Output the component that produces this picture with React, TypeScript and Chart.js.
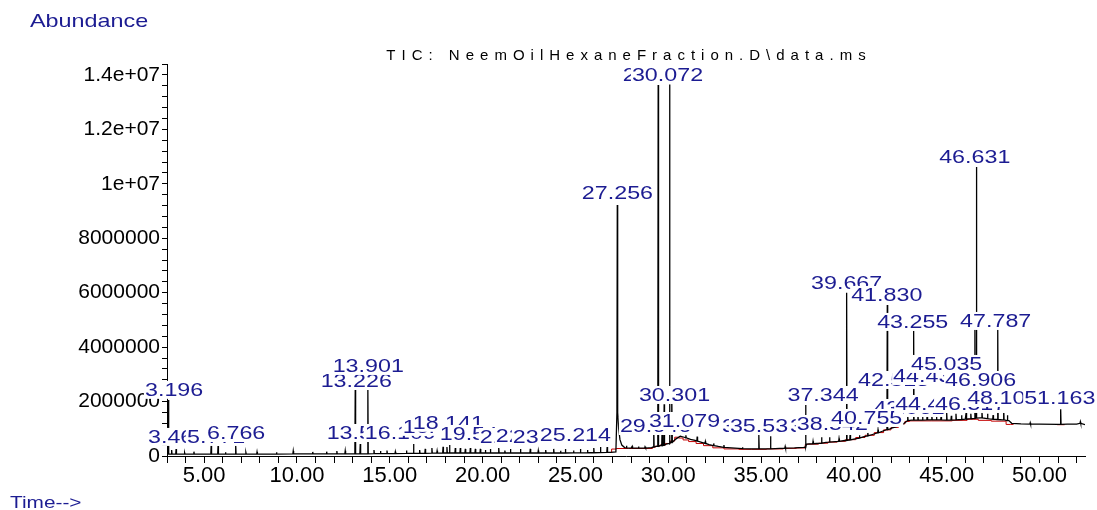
import React, { useEffect, useRef } from "react";
import { Chart, registerables } from "chart.js";

Chart.register(...registerables);

// ---------- data ----------
const chartTitle = "TIC: NeemOilHexaneFraction.D\\data.ms";
const yAxisTitle = "Abundance";
const xAxisTitle = "Time-->";

// slowly varying trace (baseline drift, hump and tail of the 27.256 peak)
const baseRT = [
  3.0, 5.0, 8.0, 11.0, 13.0, 15.0, 18.0, 21.0, 24.0, 26.9, 27.18,
  27.33, 27.4, 27.5, 27.65, 28.0, 28.8, 29.1, 29.35, 29.6, 29.9, 30.15,
  30.4, 30.65, 30.9, 31.2, 31.45, 31.8, 32.2, 32.7, 33.2, 33.8, 34.5,
  35.2, 36.0, 36.8, 37.3, 37.45, 38.0, 38.5, 39.0, 39.5, 40.0, 40.5,
  41.0, 41.5, 41.95, 42.3, 42.6, 42.85, 43.1, 44.0, 45.1, 46.0, 46.8,
  47.3, 48.0, 48.35, 48.5, 49.0, 50.0, 51.0, 51.5, 52.0, 52.45,
];
const baseAbund = [
  7e4, 7e4, 7e4, 8e4, 8e4, 9e4, 1.1e5, 1.1e5, 1.1e5, 1.3e5, 1.5e5,
  1.0e6, 6.0e5, 4.0e5, 3.1e5, 2.9e5, 2.9e5, 3.1e5, 3.5e5, 3.9e5, 4.4e5, 5.1e5,
  6.2e5, 7.3e5, 6.8e5, 6.1e5, 5.7e5, 5.0e5, 4.2e5, 3.5e5, 3.1e5, 2.8e5, 2.6e5,
  2.6e5, 2.8e5, 3.0e5, 3.2e5, 4.4e5, 4.6e5, 5.0e5, 5.3e5, 5.7e5, 6.2e5, 7.0e5,
  7.9e5, 9.0e5, 1.0e6, 1.08e6, 1.15e6, 1.28e6, 1.32e6, 1.33e6, 1.32e6, 1.35e6, 1.4e6,
  1.36e6, 1.33e6, 1.3e6, 1.2e6, 1.18e6, 1.17e6, 1.16e6, 1.17e6, 1.17e6, 1.15e6,
];

// peaks: retention time, abundance at the foot, abundance at the apex
const peakRT = [
  3.08, 3.25, 3.49, 3.95, 4.45, 5.38, 5.75, 6.15, 6.7, 7.25, 7.85, 8.9, 9.8,
  10.85, 11.6, 12.15, 12.6, 13.14, 13.41, 13.82, 14.15, 14.5, 14.85,
  15.3, 15.9, 16.28, 16.61, 16.91, 17.27, 17.55, 17.87, 18.08, 18.22, 18.53,
  18.8, 19.07, 19.34, 19.61, 19.88, 20.15, 20.42, 20.87, 21.2, 21.5, 22.04,
  22.57, 23.0, 23.4, 23.83, 24.2, 24.46, 24.9, 25.27, 25.65, 25.99, 26.35,
  26.71, 27.256,
  27.75, 28.06, 28.4, 28.75, 29.22, 29.458, 29.67, 29.78, 30.072, 30.2,
  30.95, 31.56, 32.0, 32.45, 33.0, 34.0, 34.88, 35.51, 36.3, 37.4, 37.8,
  38.26, 38.69, 39.2, 39.61, 39.8, 40.3, 40.75, 41.3, 41.8, 42.15, 42.5,
  42.9, 43.22, 43.45, 43.7, 43.95, 44.2, 44.45, 44.7, 45.0, 45.25, 45.5,
  45.8, 46.05, 46.3, 46.52, 46.6, 46.9, 47.2, 47.5, 47.75, 48.07, 48.27,
  49.5, 51.14, 52.2,
];
const peakBase = [
  7e4, 7e4, 7e4, 7e4, 7e4, 7e4, 7e4, 7e4, 7e4, 7e4, 7e4, 7e4, 7.5e4,
  8e4, 8e4, 8e4, 8e4, 8e4, 8e4, 8e4, 8.5e4, 8.5e4, 9e4,
  9e4, 1e5, 1e5, 1e5, 1e5, 1.05e5, 1.05e5, 1.1e5, 1.1e5, 1.1e5, 1.1e5,
  1.1e5, 1.1e5, 1.1e5, 1.1e5, 1.1e5, 1.1e5, 1.1e5, 1.1e5, 1.1e5, 1.1e5, 1.1e5,
  1.1e5, 1.1e5, 1.1e5, 1.1e5, 1.1e5, 1.1e5, 1.15e5, 1.15e5, 1.2e5, 1.2e5, 1.25e5,
  1.3e5, 1.6e6,
  3.0e5, 2.9e5, 2.9e5, 2.9e5, 3.3e5, 3.6e5, 3.8e5, 4.0e5, 4.6e5, 5.0e5,
  6.7e5, 5.5e5, 4.6e5, 3.8e5, 3.2e5, 2.7e5, 2.6e5, 2.6e5, 2.9e5, 3.3e5, 4.5e5,
  4.7e5, 5.1e5, 5.4e5, 5.7e5, 5.9e5, 6.6e5, 7.4e5, 8.5e5, 9.7e5, 1.05e6, 1.13e6,
  1.3e6, 1.32e6, 1.32e6, 1.32e6, 1.33e6, 1.33e6, 1.33e6, 1.33e6, 1.32e6, 1.32e6, 1.33e6,
  1.34e6, 1.35e6, 1.37e6, 1.38e6, 1.39e6, 1.4e6, 1.37e6, 1.35e6, 1.34e6, 1.33e6, 1.3e6,
  1.17e6, 1.16e6, 1.2e6,
];
const peakTop = [
  2.06e6, 2.2e5, 2.6e5, 1.2e5, 1.6e5, 4.1e5, 3.7e5, 1.4e5, 4.1e5, 1.3e5, 1.5e5, 1.4e5, 1.8e5,
  1.5e5, 1.6e5, 1.8e5, 1.9e5, 2.43e6, 4.4e5, 2.43e6, 2.2e5, 1.8e5, 2.0e5,
  1.6e5, 2.0e5, 4.4e5, 2.2e5, 2.6e5, 2.9e5, 1.9e5, 3.4e5, 3.3e5, 4.0e5, 2.9e5,
  2.9e5, 2.6e5, 2.9e5, 2.6e5, 2.6e5, 2.2e5, 2.6e5, 2.9e5, 2.0e5, 2.6e5, 2.6e5,
  2.6e5, 2.0e5, 2.2e5, 2.6e5, 1.9e5, 2.6e5, 2.0e5, 2.6e5, 2.2e5, 2.9e5, 3.3e5,
  3.3e5, 9.22e6,
  3.8e5, 3.6e5, 3.5e5, 3.4e5, 1.0e6, 1.363e7, 1.0e6, 1.9e6, 1.365e7, 2.2e6,
  7.6e5, 7.1e5, 5.3e5, 4.6e5, 4.0e5, 3.2e5, 7.7e5, 7.3e5, 3.5e5, 1.87e6, 5.4e5,
  6.9e5, 6.9e5, 6.4e5, 6.0e6, 8.5e5, 7.6e5, 8.8e5, 9.6e5, 5.55e6, 1.2e6, 1.25e6,
  1.5e6, 4.6e6, 1.55e6, 1.5e6, 1.58e6, 1.5e6, 1.55e6, 1.5e6, 1.58e6, 1.48e6, 1.55e6,
  1.5e6, 1.6e6, 1.55e6, 4.8e6, 1.062e7, 1.62e6, 1.55e6, 1.5e6, 4.67e6, 1.75e6, 1.5e6,
  1.22e6, 1.72e6, 1.26e6,
];

// integration baseline (red, stepped); null breaks the line
const integRT = [
  26.95, 27.2, 27.85, 29.15, 29.3, 29.55, 29.85, 30.1, 30.35, 30.55,
  30.8, 31.1, 31.5, 31.9, 32.4, 33.0, 33.8, 34.5, 35.3, 36.2, 36.9, 37.38,
  37.5, 38.1, 38.6, 39.1, 39.55, 40.1, 40.6, 41.1, 41.6, 42.0, 42.4, 42.75,
  43.0, 44.2, 45.3, 46.1, 46.7, 47.4, 48.2, 48.45, 48.6, 48.61,
  50.95, 51.35,
];
const integAbund: (number | null)[] = [
  1.2e5, 2.55e5, 2.75e5, 2.75e5, 3.2e5, 3.6e5, 4.0e5, 4.6e5, 5.5e5, 6.9e5,
  6.6e5, 5.9e5, 5.3e5, 4.6e5, 3.8e5, 3.0e5, 2.6e5, 2.45e5, 2.45e5, 2.6e5, 2.8e5, 2.95e5,
  4.2e5, 4.35e5, 4.7e5, 5.1e5, 5.4e5, 6.0e5, 6.8e5, 7.6e5, 8.6e5, 9.6e5, 1.05e6, 1.18e6,
  1.27e6, 1.29e6, 1.29e6, 1.31e6, 1.35e6, 1.31e6, 1.28e6, 1.16e6, 1.16e6, null,
  1.15e6, 1.15e6,
];

// peak labels (text, anchor time, anchor abundance) in drawing order
const labelText = [
  "3.196", "3.467", "5.771", "6.766", "13.226", "13.901", "13.508", "16.109",
  "16.407", "18.141", "19.546", "21.253", "22.228", "23.093", "25.214", "27.256",
  "29.458", "30.072", "29.646", "31.079", "30.301", "33.512", "35.536", "36.968",
  "38.542", "37.344", "43.962", "40.755", "39.667", "41.830", "43.255", "42.513",
  "44.436", "45.035", "46.906", "44.482", "46.517", "48.105", "51.163", "46.631",
  "47.787",
];
const labelRT = [
  3.383, 3.544, 5.647, 6.725, 13.194, 13.841, 13.517, 15.57,
  17.615, 18.154, 19.609, 21.765, 22.628, 23.544, 25.0, 27.264,
  29.474, 29.96, 29.313, 30.876, 30.337, 34.81, 35.24, 38.47,
  38.84, 38.34, 42.97, 40.69, 39.61, 41.77, 43.17, 42.14,
  44.03, 45.0, 46.83, 44.14, 46.29, 48.02, 51.09, 46.51,
  47.64,
];
const labelLevel = [
  2.43e6, 7.0e5, 7.0e5, 8.45e5, 2.756e6, 3.308e6, 8.45e5, 8.45e5,
  1.07e6, 1.22e6, 8.09e5, 7.0e5, 7.35e5, 7.0e5, 7.72e5, 9.665e6,
  1.4e7, 1.4e7, 1.1025e6, 1.286e6, 2.242e6, 1.1025e6, 1.1025e6, 1.1025e6,
  1.176e6, 2.242e6, 1.764e6, 1.3965e6, 6.358e6, 5.917e6, 4.925e6, 2.793e6,
  2.94e6, 3.381e6, 2.793e6, 1.911e6, 1.911e6, 2.1315e6, 2.1315e6, 1.0988e7,
  4.961e6,
];

const X_MIN = 3.0;
const X_MAX = 52.45;
const Y_MAX = 1.44e7;
const Y_STEP = 4e5;

// ---------- styles ----------
const FONT = '"Liberation Sans", Arial, sans-serif';
const NAVY = "#1c1c92";
const PEAK_HALF = 0.02;

function drawStretched(
  ctx: CanvasRenderingContext2D,
  text: string,
  x: number,
  y: number,
  size: number,
  sx: number,
  color: string,
) {
  ctx.save();
  ctx.font = `${size}px ${FONT}`;
  ctx.fillStyle = color;
  ctx.textBaseline = "alphabetic";
  ctx.textAlign = "left";
  ctx.translate(x, y);
  ctx.scale(sx, 1);
  ctx.fillText(text, 0, 0);
  ctx.restore();
}

const annotatePlugin = {
  id: "annotate",
  afterDatasetsDraw(chart: any) {
    const ctx: CanvasRenderingContext2D = chart.ctx;
    const xs = chart.scales.x;
    const ys = chart.scales.y;
    const size = 17.5;
    const sx = 1.33;
    ctx.save();
    ctx.font = `${size}px ${FONT}`;
    labelText.forEach((t, i) => {
      const cx = xs.getPixelForValue(labelRT[i]);
      const cy = ys.getPixelForValue(labelLevel[i]);
      const w = ctx.measureText(t).width * sx;
      ctx.fillStyle = "#ffffff";
      ctx.fillRect(cx - w / 2 - 1, cy - 9, w + 2, 18);
      drawStretched(ctx, t, cx - w / 2, cy + 6, size, sx, NAVY);
      ctx.font = `${size}px ${FONT}`;
    });
    ctx.restore();
  },
  afterDraw(chart: any) {
    const ctx: CanvasRenderingContext2D = chart.ctx;
    const area = chart.chartArea;
    ctx.save();
    ctx.font = `15px ${FONT}`;
    ctx.fillStyle = "#000";
    const spacing = 6;
    const chars = chartTitle.split("");
    const widths = chars.map((c) => ctx.measureText(c).width);
    const total = widths.reduce((a, b) => a + b, 0) + spacing * (chars.length - 1);
    let x = (area.left + area.right) / 2 - total / 2;
    chars.forEach((c, i) => {
      ctx.fillText(c, x, 60);
      x += widths[i] + spacing;
    });
    ctx.restore();
    drawStretched(ctx, yAxisTitle, 30, 27, 19, 1.23, NAVY);
    drawStretched(ctx, xAxisTitle, 10, 508, 16, 1.3, NAVY);
  },
};

function formatY(v: number): string {
  const idx = Math.round(v / Y_STEP);
  if (idx % 5 !== 0) return "";
  const val = idx * Y_STEP;
  if (val === 0) return "0";
  if (val < 1e7) return String(val);
  return String(Math.round((val / 1e7) * 10) / 10) + "e+07";
}

function formatX(v: number): string {
  const r = Math.round(v);
  if (Math.abs(v - r) > 1e-6 || r % 5 !== 0) return "";
  return r.toFixed(2);
}

export default function App() {
  const ref = useRef<HTMLCanvasElement | null>(null);

  useEffect(() => {
    if (!ref.current) return;
    const trace: { x: number; y: number }[] = baseRT.map((t, i) => ({ x: t, y: baseAbund[i] }));
    peakRT.forEach((t, i) => {
      trace.push({ x: t - PEAK_HALF, y: peakBase[i] });
      trace.push({ x: t, y: peakTop[i] });
      trace.push({ x: t + PEAK_HALF, y: peakBase[i] });
    });
    trace.sort((a, b) => a.x - b.x);
    const integ = integRT.map((t, i) => ({ x: t, y: integAbund[i] }));

    const chart = new Chart(ref.current, {
      type: "line",
      data: {
        datasets: [
          {
            label: "TIC",
            data: trace,
            borderColor: "#000000",
            borderWidth: 1.3,
            pointRadius: 0,
            tension: 0,
            order: 0,
          },
          {
            label: "Integration baseline",
            data: integ as any,
            borderColor: "#c40000",
            borderWidth: 1,
            pointRadius: 0,
            stepped: "after",
            spanGaps: false,
            order: 1,
          },
        ],
      },
      options: {
        responsive: false,
        animation: false,
        events: [],
        layout: { padding: { top: 64, right: 12, left: 0, bottom: 0 } },
        plugins: {
          legend: { display: false },
          tooltip: { enabled: false },
          title: { display: false },
        },
        scales: {
          x: {
            type: "linear",
            min: X_MIN,
            max: X_MAX,
            afterFit: (s: any) => {
              s.height = 54;
            },
            border: { display: true, color: "#000", width: 1 },
            grid: {
              display: true,
              drawOnChartArea: false,
              drawTicks: true,
              tickLength: 7,
              tickColor: "#000",
            },
            ticks: {
              stepSize: 1,
              autoSkip: false,
              includeBounds: false,
              maxRotation: 0,
              padding: 0,
              color: "#000",
              font: { family: FONT, size: 22 },
              callback: (v: any) => formatX(Number(v)),
            },
          },
          y: {
            type: "linear",
            min: 0,
            max: Y_MAX,
            afterFit: (s: any) => {
              s.width = 167;
            },
            border: { display: true, color: "#000", width: 1 },
            grid: {
              display: true,
              drawOnChartArea: false,
              drawTicks: true,
              tickLength: 5,
              tickColor: "#000",
            },
            ticks: {
              stepSize: Y_STEP,
              autoSkip: false,
              includeBounds: false,
              padding: 2,
              color: "#000",
              font: { family: FONT, size: 21 },
              callback: (v: any) => formatY(Number(v)),
            },
          },
        },
      },
      plugins: [annotatePlugin],
    });
    return () => chart.destroy();
  }, []);

  return (
    <div style={{ position: "fixed", left: 0, top: 0, width: 1097, height: 510, background: "#fff" }}>
      <canvas ref={ref} width={1097} height={510} style={{ display: "block" }} />
    </div>
  );
}
